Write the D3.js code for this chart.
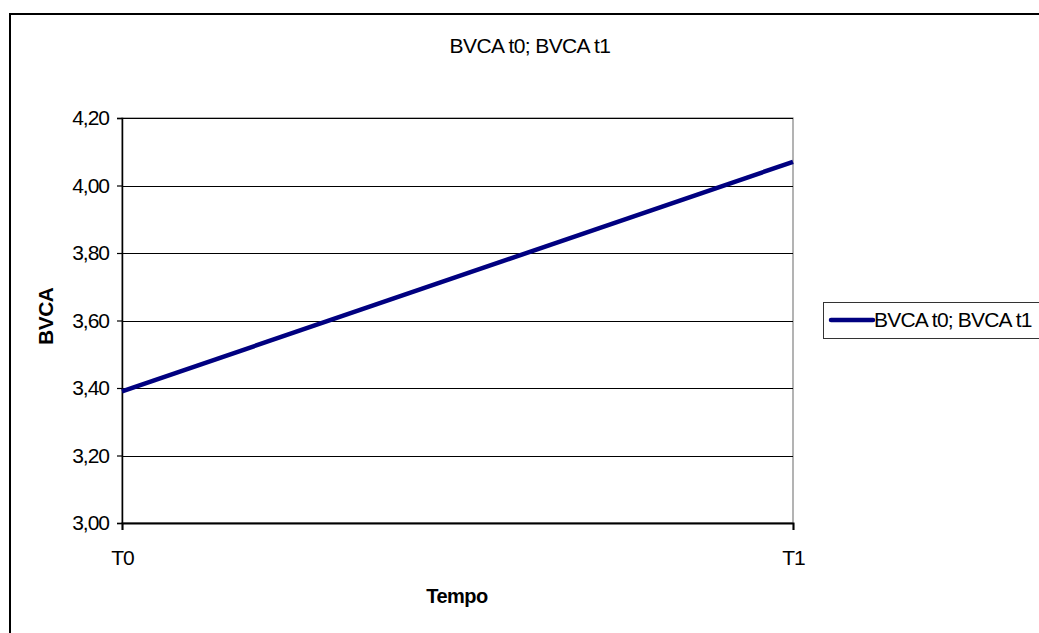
<!DOCTYPE html>
<html>
<head>
<meta charset="utf-8">
<script src="https://cdn.jsdelivr.net/npm/d3@7"></script>
<style>
  html, body { margin: 0; padding: 0; background: #fff; overflow: hidden; }
  svg { display: block; font-family: "Liberation Sans", Arial, sans-serif; }
</style>
</head>
<body>
<svg id="chart" width="1039" height="633"></svg>
<script>
// Series and axis definitions
const categories = ["T0", "T1"];
const seriesName = "BVCA t0; BVCA t1";
const values = [3.39, 4.07];
const yTicks = [3.0, 3.2, 3.4, 3.6, 3.8, 4.0, 4.2];
const chartTitle = "BVCA t0; BVCA t1";
const xTitle = "Tempo";
const yTitle = "BVCA";

const svg = d3.select("#chart");

const plot = { left: 122, right: 793, top: 118, bottom: 523 };

const x = d3.scalePoint().domain(categories).range([plot.left, plot.right]);
const y = d3.scaleLinear().domain([3.0, 4.2]).range([plot.bottom, plot.top]);
const fmt = v => d3.format(".2f")(v).replace(".", ",");

// Outer chart frame (extends beyond the visible window on right/bottom)
svg.append("rect")
  .attr("x", 10).attr("y", 14)
  .attr("width", 1060).attr("height", 650)
  .attr("fill", "#fff").attr("stroke", "#000").attr("stroke-width", 2);

// Title
svg.append("text")
  .attr("x", 530).attr("y", 53)
  .attr("text-anchor", "middle")
  .attr("font-size", 21)
  .attr("letter-spacing", -0.6)
  .text(chartTitle);

// Plot area frame
svg.append("rect")
  .attr("x", plot.left).attr("y", plot.top)
  .attr("width", plot.right - plot.left).attr("height", plot.bottom - plot.top)
  .attr("fill", "#fff").attr("stroke", "#808080").attr("stroke-width", 1.2);

// Horizontal gridlines
svg.append("g")
  .selectAll("line")
  .data(yTicks.filter(v => v > 3.0))
  .join("line")
  .attr("x1", plot.left).attr("x2", plot.right)
  .attr("y1", d => Math.round(y(d)) + 0.5).attr("y2", d => Math.round(y(d)) + 0.5)
  .attr("stroke", "#000").attr("stroke-width", 1);

// Y axis
const yAxis = svg.append("g")
  .attr("transform", `translate(${plot.left},0)`)
  .call(d3.axisLeft(y).tickValues(yTicks).tickFormat(fmt).tickSize(5).tickPadding(8));
yAxis.select(".domain").attr("stroke", "#000").attr("stroke-width", 1.5);
yAxis.selectAll(".tick line").attr("stroke", "#000").attr("stroke-width", 1.2);
yAxis.selectAll(".tick text")
  .attr("font-size", 21)
  .attr("font-family", "Liberation Sans, Arial, sans-serif")
  .attr("fill", "#000")
  .attr("letter-spacing", -1);

// X axis
const xAxis = svg.append("g")
  .attr("transform", `translate(0,${plot.bottom})`)
  .call(d3.axisBottom(x).tickSize(7).tickPadding(20));
xAxis.select(".domain").attr("stroke", "#000").attr("stroke-width", 2);
xAxis.selectAll(".tick line").attr("stroke", "#000").attr("stroke-width", 1.2);
xAxis.selectAll(".tick text")
  .attr("font-size", 21)
  .attr("font-family", "Liberation Sans, Arial, sans-serif")
  .attr("fill", "#000")
  .attr("letter-spacing", -1);

// Axis titles
svg.append("text")
  .attr("x", 457).attr("y", 603)
  .attr("text-anchor", "middle")
  .attr("font-size", 20)
  .attr("font-weight", "bold")
  .attr("letter-spacing", -0.5)
  .text(xTitle);

svg.append("text")
  .attr("transform", "translate(53,345) rotate(-90)")
  .attr("text-anchor", "start")
  .attr("font-size", 21)
  .attr("font-weight", "bold")
  .attr("letter-spacing", -0.5)
  .text(yTitle);

// Series line
const data = categories.map((c, i) => ({ c, v: values[i] }));
svg.append("path")
  .datum(data)
  .attr("fill", "none")
  .attr("stroke", "#000080")
  .attr("stroke-width", 4.5)
  .attr("d", d3.line().x(d => x(d.c)).y(d => y(d.v)));

// Legend
const legend = svg.append("g");
legend.append("rect")
  .attr("x", 823.5).attr("y", 302.5)
  .attr("width", 260).attr("height", 36)
  .attr("fill", "#fff").attr("stroke", "#333").attr("stroke-width", 1);
legend.append("line")
  .attr("x1", 831).attr("x2", 873).attr("y1", 320).attr("y2", 320)
  .attr("stroke", "#000080").attr("stroke-width", 4.5).attr("stroke-linecap", "round");
legend.append("text")
  .attr("x", 874).attr("y", 327)
  .attr("font-size", 21)
  .attr("letter-spacing", -0.8)
  .text(seriesName);
</script>
</body>
</html>
